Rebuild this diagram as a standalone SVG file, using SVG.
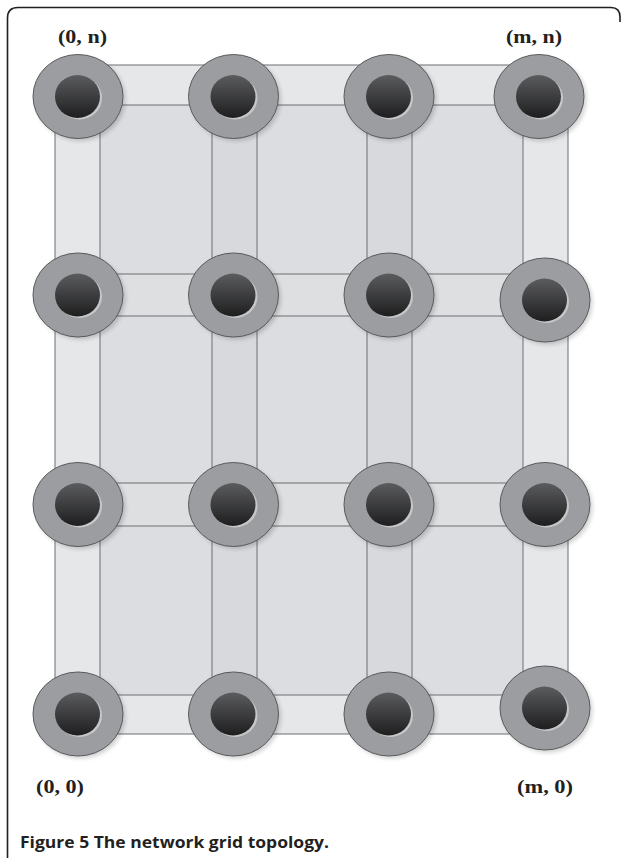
<svg xmlns="http://www.w3.org/2000/svg" width="625" height="858" viewBox="0 0 625 858">
<defs>
<style>
.band{fill:#e6e7e8;stroke:#6d6e70;stroke-width:1}
.cell{fill:#dcdde0;stroke:#6d6e70;stroke-width:1}
.vb{fill:#d8d9dc;stroke:#6d6e70;stroke-width:1}
.hb{fill:#dedfe1;stroke:#6d6e70;stroke-width:1}
.ring{fill:#9c9da0;stroke:#595a5c;stroke-width:1}
.shadow{fill:#000;opacity:0.18;filter:url(#blur)}
.rim{fill:#c6c7c9}
.core{fill:url(#coreGrad)}
.lbl{font-family:"Liberation Serif","Times New Roman",serif;font-weight:bold;font-size:18px;fill:#231f20}
.cap{font-family:"Open Sans","Liberation Sans",sans-serif;font-weight:bold;font-size:16px;fill:#231f20}
</style>
<linearGradient id="coreGrad" x1="0" y1="0" x2="0" y2="1">
<stop offset="0" stop-color="#5b5c5e"/>
<stop offset="1" stop-color="#1e1e1f"/>
</linearGradient>
<filter id="blur" x="-20%" y="-20%" width="140%" height="140%"><feGaussianBlur stdDeviation="2"/></filter>
<g id="nodeShape">
<ellipse class="shadow" cx="2.5" cy="2.5" rx="45" ry="42"/>
<ellipse class="ring" cx="0" cy="0" rx="45" ry="42"/>
<ellipse class="rim" cx="1.5" cy="1.5" rx="22.5" ry="21.5"/>
<ellipse class="core" cx="-0.5" cy="0" rx="22.5" ry="21.5"/>
</g>
</defs>
<rect x="0" y="0" width="625" height="858" fill="#ffffff"/>
<path d="M7.5,858 L7.5,18 Q7.5,7.5 18,7.5 L611,7.5 Q620,7.5 620,17 L620,22" fill="none" stroke="#231f20" stroke-width="1.6"/>
<g id="connectors">
<rect class="band" x="55" y="65" width="513" height="669"/>
<rect class="cell" x="100" y="105" width="423" height="590"/>
<rect class="vb" x="212" y="105" width="45" height="590"/>
<rect class="vb" x="367" y="105" width="45" height="590"/>
<rect class="hb" x="100" y="274" width="423" height="42"/>
<rect class="hb" x="100" y="483" width="423" height="43"/>
</g>
<g id="n-0-3"><use href="#nodeShape" x="78" y="96.5"/></g>
<g id="n-1-3"><use href="#nodeShape" x="233.5" y="96.5"/></g>
<g id="n-2-3"><use href="#nodeShape" x="389" y="96.5"/></g>
<g id="n-3-3"><use href="#nodeShape" x="539" y="96.5"/></g>
<g id="n-0-2"><use href="#nodeShape" x="78" y="295"/></g>
<g id="n-1-2"><use href="#nodeShape" x="233.5" y="295"/></g>
<g id="n-2-2"><use href="#nodeShape" x="389" y="295"/></g>
<g id="n-3-2"><use href="#nodeShape" x="545" y="300"/></g>
<g id="n-0-1"><use href="#nodeShape" x="78" y="504.5"/></g>
<g id="n-1-1"><use href="#nodeShape" x="233.5" y="504.5"/></g>
<g id="n-2-1"><use href="#nodeShape" x="389" y="504.5"/></g>
<g id="n-3-1"><use href="#nodeShape" x="545" y="504.5"/></g>
<g id="n-0-0"><use href="#nodeShape" x="78" y="714"/></g>
<g id="n-1-0"><use href="#nodeShape" x="233.5" y="714"/></g>
<g id="n-2-0"><use href="#nodeShape" x="389" y="714"/></g>
<g id="n-3-0"><use href="#nodeShape" x="545" y="708"/></g>
<g id="labels">
<text class="lbl" x="58" y="43" textLength="49" lengthAdjust="spacingAndGlyphs">(0, n)</text>
<text class="lbl" x="506" y="43" textLength="56" lengthAdjust="spacingAndGlyphs">(m, n)</text>
<text class="lbl" x="36" y="793" textLength="48" lengthAdjust="spacingAndGlyphs">(0, 0)</text>
<text class="lbl" x="517" y="793" textLength="56" lengthAdjust="spacingAndGlyphs">(m, 0)</text>
<text class="cap" x="20" y="848" textLength="309" lengthAdjust="spacingAndGlyphs">Figure 5 The network grid topology.</text>
</g>
</svg>
